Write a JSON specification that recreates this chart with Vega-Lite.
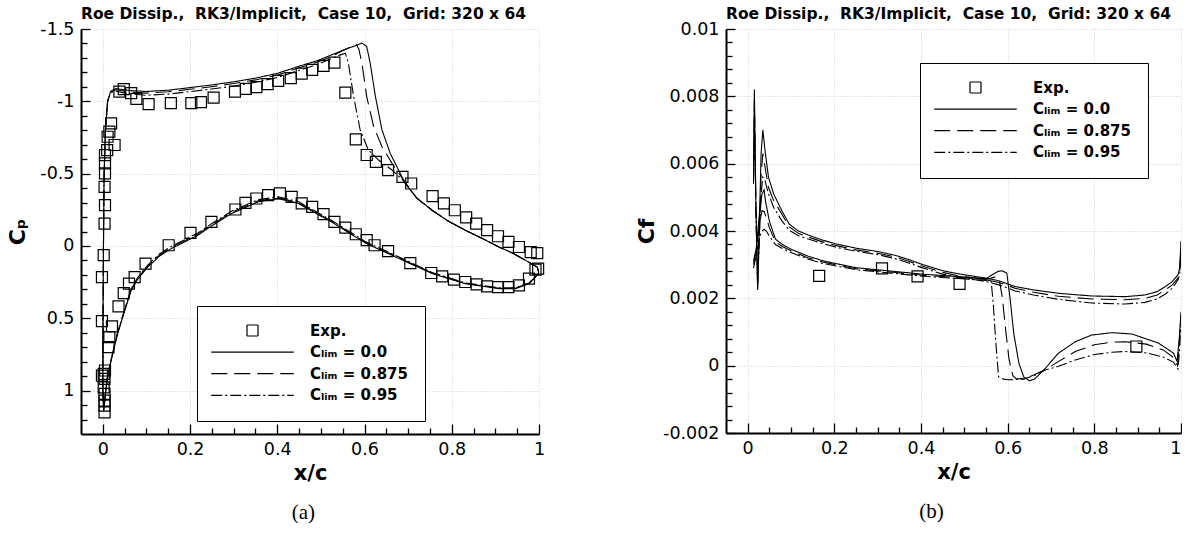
{
  "$schema": "https://vega.github.io/schema/vega-lite/v6.json",
  "padding": {"left": 6, "top": 7, "right": 0, "bottom": 0},
  "background": "white",
  "datasets": {
    "cpl": [
      {"s":"a","g":"U","x":1,"y":0.19},{"s":"a","g":"U","x":0.996,"y":0.146},{"s":"a","g":"U","x":0.969,"y":0.099},{"s":"a","g":"U","x":0.94,"y":0.05},{"s":"a","g":"U","x":0.908,"y":0.007},{"s":"a","g":"U","x":0.87,"y":-0.052},{"s":"a","g":"U","x":0.831,"y":-0.109},{"s":"a","g":"U","x":0.79,"y":-0.175},{"s":"a","g":"U","x":0.755,"y":-0.247},{"s":"a","g":"U","x":0.72,"y":-0.33},{"s":"a","g":"U","x":0.693,"y":-0.432},{"s":"a","g":"U","x":0.678,"y":-0.525},{"s":"a","g":"U","x":0.659,"y":-0.64},{"s":"a","g":"U","x":0.64,"y":-0.802},{"s":"a","g":"U","x":0.625,"y":-1.033},{"s":"a","g":"U","x":0.613,"y":-1.264},{"s":"a","g":"U","x":0.605,"y":-1.379},{"s":"a","g":"U","x":0.594,"y":-1.403},{"s":"a","g":"U","x":0.58,"y":-1.385},{"s":"a","g":"U","x":0.563,"y":-1.368},{"s":"a","g":"U","x":0.525,"y":-1.322},{"s":"a","g":"U","x":0.493,"y":-1.282},{"s":"a","g":"U","x":0.448,"y":-1.241},{"s":"a","g":"U","x":0.402,"y":-1.195},{"s":"a","g":"U","x":0.35,"y":-1.16},{"s":"a","g":"U","x":0.3,"y":-1.135},{"s":"a","g":"U","x":0.249,"y":-1.113},{"s":"a","g":"U","x":0.2,"y":-1.095},{"s":"a","g":"U","x":0.15,"y":-1.077},{"s":"a","g":"U","x":0.1,"y":-1.068},{"s":"a","g":"U","x":0.06,"y":-1.075},{"s":"a","g":"U","x":0.03,"y":-1.088},{"s":"a","g":"U","x":0.018,"y":-1.07},{"s":"a","g":"U","x":0.011,"y":-1.0},{"s":"a","g":"U","x":0.006,"y":-0.8},{"s":"a","g":"U","x":0.003,"y":-0.5},{"s":"a","g":"U","x":0.0015,"y":0},{"s":"a","g":"U","x":0.0005,"y":0.5},{"s":"a","g":"U","x":0,"y":1.0},
      {"s":"a","g":"L","x":0,"y":1.0},{"s":"a","g":"L","x":0.002,"y":1.14},{"s":"a","g":"L","x":0.006,"y":1.02},{"s":"a","g":"L","x":0.011,"y":0.9},{"s":"a","g":"L","x":0.019,"y":0.793},{"s":"a","g":"L","x":0.034,"y":0.607},{"s":"a","g":"L","x":0.05,"y":0.45},{"s":"a","g":"L","x":0.065,"y":0.307},{"s":"a","g":"L","x":0.08,"y":0.23},{"s":"a","g":"L","x":0.103,"y":0.146},{"s":"a","g":"L","x":0.13,"y":0.07},{"s":"a","g":"L","x":0.157,"y":0.018},{"s":"a","g":"L","x":0.218,"y":-0.074},{"s":"a","g":"L","x":0.25,"y":-0.14},{"s":"a","g":"L","x":0.295,"y":-0.224},{"s":"a","g":"L","x":0.356,"y":-0.305},{"s":"a","g":"L","x":0.402,"y":-0.328},{"s":"a","g":"L","x":0.448,"y":-0.294},{"s":"a","g":"L","x":0.525,"y":-0.165},{"s":"a","g":"L","x":0.602,"y":-0.02},{"s":"a","g":"L","x":0.678,"y":0.085},{"s":"a","g":"L","x":0.755,"y":0.191},{"s":"a","g":"L","x":0.831,"y":0.261},{"s":"a","g":"L","x":0.908,"y":0.295},{"s":"a","g":"L","x":0.946,"y":0.295},{"s":"a","g":"L","x":0.977,"y":0.261},{"s":"a","g":"L","x":0.996,"y":0.203},{"s":"a","g":"L","x":1,"y":0.19},
      {"s":"b","g":"U","x":1,"y":0.19},{"s":"b","g":"U","x":0.996,"y":0.146},{"s":"b","g":"U","x":0.969,"y":0.099},{"s":"b","g":"U","x":0.94,"y":0.05},{"s":"b","g":"U","x":0.908,"y":0.007},{"s":"b","g":"U","x":0.87,"y":-0.052},{"s":"b","g":"U","x":0.831,"y":-0.109},{"s":"b","g":"U","x":0.79,"y":-0.175},{"s":"b","g":"U","x":0.755,"y":-0.247},{"s":"b","g":"U","x":0.72,"y":-0.33},{"s":"b","g":"U","x":0.693,"y":-0.44},{"s":"b","g":"U","x":0.663,"y":-0.571},{"s":"b","g":"U","x":0.64,"y":-0.686},{"s":"b","g":"U","x":0.621,"y":-0.825},{"s":"b","g":"U","x":0.605,"y":-1.033},{"s":"b","g":"U","x":0.594,"y":-1.264},{"s":"b","g":"U","x":0.587,"y":-1.36},{"s":"b","g":"U","x":0.582,"y":-1.391},{"s":"b","g":"U","x":0.57,"y":-1.378},{"s":"b","g":"U","x":0.55,"y":-1.352},{"s":"b","g":"U","x":0.525,"y":-1.31},{"s":"b","g":"U","x":0.493,"y":-1.272},{"s":"b","g":"U","x":0.448,"y":-1.23},{"s":"b","g":"U","x":0.402,"y":-1.183},{"s":"b","g":"U","x":0.35,"y":-1.148},{"s":"b","g":"U","x":0.3,"y":-1.123},{"s":"b","g":"U","x":0.249,"y":-1.101},{"s":"b","g":"U","x":0.2,"y":-1.083},{"s":"b","g":"U","x":0.15,"y":-1.066},{"s":"b","g":"U","x":0.1,"y":-1.057},{"s":"b","g":"U","x":0.06,"y":-1.065},{"s":"b","g":"U","x":0.03,"y":-1.08},{"s":"b","g":"U","x":0.018,"y":-1.065},{"s":"b","g":"U","x":0.011,"y":-1.0},{"s":"b","g":"U","x":0.006,"y":-0.8},{"s":"b","g":"U","x":0.003,"y":-0.5},{"s":"b","g":"U","x":0.0015,"y":0},{"s":"b","g":"U","x":0.0005,"y":0.5},{"s":"b","g":"U","x":0,"y":1.0},
      {"s":"b","g":"L","x":0,"y":1.0},{"s":"b","g":"L","x":0.002,"y":1.14},{"s":"b","g":"L","x":0.006,"y":1.02},{"s":"b","g":"L","x":0.011,"y":0.9},{"s":"b","g":"L","x":0.019,"y":0.79},{"s":"b","g":"L","x":0.034,"y":0.6},{"s":"b","g":"L","x":0.05,"y":0.445},{"s":"b","g":"L","x":0.065,"y":0.3},{"s":"b","g":"L","x":0.08,"y":0.223},{"s":"b","g":"L","x":0.103,"y":0.138},{"s":"b","g":"L","x":0.13,"y":0.062},{"s":"b","g":"L","x":0.157,"y":0.01},{"s":"b","g":"L","x":0.218,"y":-0.082},{"s":"b","g":"L","x":0.25,"y":-0.148},{"s":"b","g":"L","x":0.295,"y":-0.232},{"s":"b","g":"L","x":0.356,"y":-0.312},{"s":"b","g":"L","x":0.402,"y":-0.334},{"s":"b","g":"L","x":0.448,"y":-0.3},{"s":"b","g":"L","x":0.525,"y":-0.17},{"s":"b","g":"L","x":0.602,"y":-0.025},{"s":"b","g":"L","x":0.678,"y":0.08},{"s":"b","g":"L","x":0.755,"y":0.187},{"s":"b","g":"L","x":0.831,"y":0.258},{"s":"b","g":"L","x":0.908,"y":0.292},{"s":"b","g":"L","x":0.946,"y":0.292},{"s":"b","g":"L","x":0.977,"y":0.258},{"s":"b","g":"L","x":0.996,"y":0.2},{"s":"b","g":"L","x":1,"y":0.19},
      {"s":"c","g":"U","x":1,"y":0.19},{"s":"c","g":"U","x":0.996,"y":0.146},{"s":"c","g":"U","x":0.969,"y":0.099},{"s":"c","g":"U","x":0.94,"y":0.05},{"s":"c","g":"U","x":0.908,"y":0.007},{"s":"c","g":"U","x":0.87,"y":-0.052},{"s":"c","g":"U","x":0.831,"y":-0.109},{"s":"c","g":"U","x":0.79,"y":-0.175},{"s":"c","g":"U","x":0.755,"y":-0.247},{"s":"c","g":"U","x":0.72,"y":-0.33},{"s":"c","g":"U","x":0.693,"y":-0.44},{"s":"c","g":"U","x":0.663,"y":-0.525},{"s":"c","g":"U","x":0.632,"y":-0.594},{"s":"c","g":"U","x":0.609,"y":-0.663},{"s":"c","g":"U","x":0.59,"y":-0.802},{"s":"c","g":"U","x":0.575,"y":-1.033},{"s":"c","g":"U","x":0.563,"y":-1.264},{"s":"c","g":"U","x":0.556,"y":-1.333},{"s":"c","g":"U","x":0.54,"y":-1.316},{"s":"c","g":"U","x":0.525,"y":-1.297},{"s":"c","g":"U","x":0.493,"y":-1.256},{"s":"c","g":"U","x":0.448,"y":-1.212},{"s":"c","g":"U","x":0.402,"y":-1.166},{"s":"c","g":"U","x":0.35,"y":-1.132},{"s":"c","g":"U","x":0.3,"y":-1.105},{"s":"c","g":"U","x":0.249,"y":-1.085},{"s":"c","g":"U","x":0.2,"y":-1.067},{"s":"c","g":"U","x":0.15,"y":-1.05},{"s":"c","g":"U","x":0.1,"y":-1.042},{"s":"c","g":"U","x":0.06,"y":-1.052},{"s":"c","g":"U","x":0.03,"y":-1.07},{"s":"c","g":"U","x":0.018,"y":-1.06},{"s":"c","g":"U","x":0.011,"y":-1.0},{"s":"c","g":"U","x":0.006,"y":-0.8},{"s":"c","g":"U","x":0.003,"y":-0.5},{"s":"c","g":"U","x":0.0015,"y":0},{"s":"c","g":"U","x":0.0005,"y":0.5},{"s":"c","g":"U","x":0,"y":1.0},
      {"s":"c","g":"L","x":0,"y":1.0},{"s":"c","g":"L","x":0.002,"y":1.14},{"s":"c","g":"L","x":0.006,"y":1.02},{"s":"c","g":"L","x":0.011,"y":0.9},{"s":"c","g":"L","x":0.019,"y":0.785},{"s":"c","g":"L","x":0.034,"y":0.595},{"s":"c","g":"L","x":0.05,"y":0.44},{"s":"c","g":"L","x":0.065,"y":0.295},{"s":"c","g":"L","x":0.08,"y":0.218},{"s":"c","g":"L","x":0.103,"y":0.132},{"s":"c","g":"L","x":0.13,"y":0.055},{"s":"c","g":"L","x":0.157,"y":0.003},{"s":"c","g":"L","x":0.218,"y":-0.09},{"s":"c","g":"L","x":0.25,"y":-0.155},{"s":"c","g":"L","x":0.295,"y":-0.24},{"s":"c","g":"L","x":0.356,"y":-0.32},{"s":"c","g":"L","x":0.402,"y":-0.34},{"s":"c","g":"L","x":0.448,"y":-0.307},{"s":"c","g":"L","x":0.525,"y":-0.176},{"s":"c","g":"L","x":0.602,"y":-0.03},{"s":"c","g":"L","x":0.678,"y":0.075},{"s":"c","g":"L","x":0.755,"y":0.183},{"s":"c","g":"L","x":0.831,"y":0.255},{"s":"c","g":"L","x":0.908,"y":0.289},{"s":"c","g":"L","x":0.946,"y":0.289},{"s":"c","g":"L","x":0.977,"y":0.256},{"s":"c","g":"L","x":0.996,"y":0.198},{"s":"c","g":"L","x":1,"y":0.19}
    ],
    "cpe": [
      {"s":"e","x":0.038,"y":-1.067},{"s":"e","x":0.048,"y":-1.084},{"s":"e","x":0.065,"y":-1.056},{"s":"e","x":0.077,"y":-1.017},{"s":"e","x":0.105,"y":-0.98},{"s":"e","x":0.156,"y":-0.987},{"s":"e","x":0.203,"y":-0.987},{"s":"e","x":0.225,"y":-0.994},{"s":"e","x":0.254,"y":-1.026},{"s":"e","x":0.303,"y":-1.067},{"s":"e","x":0.328,"y":-1.086},{"s":"e","x":0.352,"y":-1.098},{"s":"e","x":0.378,"y":-1.119},{"s":"e","x":0.402,"y":-1.141},{"s":"e","x":0.431,"y":-1.16},{"s":"e","x":0.456,"y":-1.192},{"s":"e","x":0.48,"y":-1.218},{"s":"e","x":0.506,"y":-1.245},{"s":"e","x":0.531,"y":-1.268},{"s":"e","x":0.556,"y":-1.06},{"s":"e","x":0.58,"y":-0.737},{"s":"e","x":0.605,"y":-0.629},{"s":"e","x":0.626,"y":-0.582},{"s":"e","x":0.654,"y":-0.525},{"s":"e","x":0.687,"y":-0.478},{"s":"e","x":0.707,"y":-0.432},{"s":"e","x":0.756,"y":-0.344},{"s":"e","x":0.782,"y":-0.294},{"s":"e","x":0.807,"y":-0.247},{"s":"e","x":0.833,"y":-0.197},{"s":"e","x":0.856,"y":-0.155},{"s":"e","x":0.881,"y":-0.109},{"s":"e","x":0.906,"y":-0.067},{"s":"e","x":0.93,"y":-0.028},{"s":"e","x":0.954,"y":0.007},{"s":"e","x":0.981,"y":0.042},{"s":"e","x":0.996,"y":0.049},{"s":"e","x":0.998,"y":0.157},
      {"s":"e","x":0.019,"y":-0.848},{"s":"e","x":0.015,"y":-0.79},{"s":"e","x":0.011,"y":-0.755},{"s":"e","x":0.027,"y":-0.698},{"s":"e","x":0.01,"y":-0.663},{"s":"e","x":0.005,"y":-0.628},{"s":"e","x":0.005,"y":-0.571},{"s":"e","x":0.005,"y":-0.502},{"s":"e","x":0.004,"y":-0.409},{"s":"e","x":0.005,"y":-0.282},{"s":"e","x":0.004,"y":-0.155},{"s":"e","x":0.002,"y":0.064},{"s":"e","x":-0.002,"y":0.215},{"s":"e","x":-0.002,"y":0.52},{"s":"e","x":0.002,"y":0.884},{"s":"e","x":0.004,"y":0.919},{"s":"e","x":0.005,"y":0.861},{"s":"e","x":0.002,"y":0.977},{"s":"e","x":0.004,"y":1.023},{"s":"e","x":0.004,"y":1.069},{"s":"e","x":0.004,"y":1.104},{"s":"e","x":0.004,"y":1.15},{"s":"e","x":-0.002,"y":0.896},
      {"s":"e","x":0.013,"y":0.7},{"s":"e","x":0.015,"y":0.63},{"s":"e","x":0.021,"y":0.556},{"s":"e","x":0.036,"y":0.418},{"s":"e","x":0.048,"y":0.326},{"s":"e","x":0.06,"y":0.261},{"s":"e","x":0.073,"y":0.215},{"s":"e","x":0.098,"y":0.122},{"s":"e","x":0.151,"y":-0.005},{"s":"e","x":0.201,"y":-0.09},{"s":"e","x":0.249,"y":-0.166},{"s":"e","x":0.304,"y":-0.252},{"s":"e","x":0.327,"y":-0.298},{"s":"e","x":0.352,"y":-0.328},{"s":"e","x":0.379,"y":-0.351},{"s":"e","x":0.406,"y":-0.363},{"s":"e","x":0.433,"y":-0.34},{"s":"e","x":0.456,"y":-0.294},{"s":"e","x":0.48,"y":-0.27},{"s":"e","x":0.506,"y":-0.22},{"s":"e","x":0.531,"y":-0.166},{"s":"e","x":0.556,"y":-0.127},{"s":"e","x":0.58,"y":-0.081},{"s":"e","x":0.605,"y":-0.04},{"s":"e","x":0.623,"y":-0.005},{"s":"e","x":0.654,"y":0.035},{"s":"e","x":0.705,"y":0.118},{"s":"e","x":0.753,"y":0.187},{"s":"e","x":0.778,"y":0.21},{"s":"e","x":0.805,"y":0.233},{"s":"e","x":0.831,"y":0.249},{"s":"e","x":0.857,"y":0.265},{"s":"e","x":0.881,"y":0.279},{"s":"e","x":0.906,"y":0.284},{"s":"e","x":0.93,"y":0.284},{"s":"e","x":0.954,"y":0.272},{"s":"e","x":0.977,"y":0.226},{"s":"e","x":0.992,"y":0.164}
    ],
    "cfl": [
      {"s":"a","g":"A","x":0.0135,"y":0.0056},{"s":"a","g":"A","x":0.0155,"y":0.0082},{"s":"a","g":"A","x":0.019,"y":0.0048},{"s":"a","g":"A","x":0.023,"y":0.00225},{"s":"a","g":"A","x":0.027,"y":0.0042},{"s":"a","g":"A","x":0.031,"y":0.0063},{"s":"a","g":"A","x":0.035,"y":0.007},{"s":"a","g":"A","x":0.04,"y":0.0064},{"s":"a","g":"A","x":0.048,"y":0.0056},{"s":"a","g":"A","x":0.06,"y":0.0051},{"s":"a","g":"A","x":0.079,"y":0.0046},{"s":"a","g":"A","x":0.096,"y":0.0042},{"s":"a","g":"A","x":0.117,"y":0.004},{"s":"a","g":"A","x":0.14,"y":0.00388},{"s":"a","g":"A","x":0.175,"y":0.00372},{"s":"a","g":"A","x":0.21,"y":0.0036},{"s":"a","g":"A","x":0.25,"y":0.00349},{"s":"a","g":"A","x":0.3,"y":0.00339},{"s":"a","g":"A","x":0.34,"y":0.00328},{"s":"a","g":"A","x":0.37,"y":0.00316},{"s":"a","g":"A","x":0.4,"y":0.00302},{"s":"a","g":"A","x":0.45,"y":0.00282},{"s":"a","g":"A","x":0.49,"y":0.00272},{"s":"a","g":"A","x":0.525,"y":0.00265},{"s":"a","g":"A","x":0.55,"y":0.0026},{"s":"a","g":"A","x":0.58,"y":0.00252},{"s":"a","g":"A","x":0.617,"y":0.00235},{"s":"a","g":"A","x":0.66,"y":0.00225},{"s":"a","g":"A","x":0.717,"y":0.00215},{"s":"a","g":"A","x":0.794,"y":0.00207},{"s":"a","g":"A","x":0.871,"y":0.00205},{"s":"a","g":"A","x":0.917,"y":0.0021},{"s":"a","g":"A","x":0.945,"y":0.0022},{"s":"a","g":"A","x":0.964,"y":0.00235},{"s":"a","g":"A","x":0.98,"y":0.0025},{"s":"a","g":"A","x":0.993,"y":0.0027},{"s":"a","g":"A","x":0.997,"y":0.0029},{"s":"a","g":"A","x":1,"y":0.0037},
      {"s":"a","g":"B","x":0.0135,"y":0.0031},{"s":"a","g":"B","x":0.02,"y":0.0035},{"s":"a","g":"B","x":0.027,"y":0.0045},{"s":"a","g":"B","x":0.033,"y":0.0051},{"s":"a","g":"B","x":0.038,"y":0.00522},{"s":"a","g":"B","x":0.041,"y":0.0049},{"s":"a","g":"B","x":0.05,"y":0.0043},{"s":"a","g":"B","x":0.064,"y":0.00376},{"s":"a","g":"B","x":0.08,"y":0.0036},{"s":"a","g":"B","x":0.1,"y":0.00346},{"s":"a","g":"B","x":0.14,"y":0.00325},{"s":"a","g":"B","x":0.175,"y":0.00311},{"s":"a","g":"B","x":0.25,"y":0.00291},{"s":"a","g":"B","x":0.33,"y":0.00281},{"s":"a","g":"B","x":0.41,"y":0.00271},{"s":"a","g":"B","x":0.485,"y":0.00265},{"s":"a","g":"B","x":0.55,"y":0.00258},{"s":"a","g":"B","x":0.564,"y":0.0027},{"s":"a","g":"B","x":0.578,"y":0.0028},{"s":"a","g":"B","x":0.587,"y":0.00282},{"s":"a","g":"B","x":0.598,"y":0.00275},{"s":"a","g":"B","x":0.606,"y":0.00195},{"s":"a","g":"B","x":0.614,"y":0.00096},{"s":"a","g":"B","x":0.626,"y":0.00007},{"s":"a","g":"B","x":0.637,"y":-0.00033},{"s":"a","g":"B","x":0.65,"y":-0.00045},{"s":"a","g":"B","x":0.662,"y":-0.0004},{"s":"a","g":"B","x":0.687,"y":-0.00008},{"s":"a","g":"B","x":0.717,"y":0.00037},{"s":"a","g":"B","x":0.756,"y":0.00071},{"s":"a","g":"B","x":0.794,"y":0.00091},{"s":"a","g":"B","x":0.841,"y":0.00098},{"s":"a","g":"B","x":0.887,"y":0.00094},{"s":"a","g":"B","x":0.948,"y":0.00067},{"s":"a","g":"B","x":0.983,"y":0.00037},{"s":"a","g":"B","x":0.991,"y":0.00012},{"s":"a","g":"B","x":0.996,"y":0.0008},{"s":"a","g":"B","x":1,"y":0.0016},
      {"s":"b","g":"A","x":0.0135,"y":0.0055},{"s":"b","g":"A","x":0.0155,"y":0.0079},{"s":"b","g":"A","x":0.019,"y":0.0047},{"s":"b","g":"A","x":0.023,"y":0.0023},{"s":"b","g":"A","x":0.027,"y":0.004},{"s":"b","g":"A","x":0.031,"y":0.0057},{"s":"b","g":"A","x":0.035,"y":0.0063},{"s":"b","g":"A","x":0.04,"y":0.0059},{"s":"b","g":"A","x":0.048,"y":0.0053},{"s":"b","g":"A","x":0.06,"y":0.0049},{"s":"b","g":"A","x":0.079,"y":0.0045},{"s":"b","g":"A","x":0.096,"y":0.00412},{"s":"b","g":"A","x":0.117,"y":0.00393},{"s":"b","g":"A","x":0.14,"y":0.00382},{"s":"b","g":"A","x":0.175,"y":0.00367},{"s":"b","g":"A","x":0.21,"y":0.00355},{"s":"b","g":"A","x":0.25,"y":0.00344},{"s":"b","g":"A","x":0.3,"y":0.00334},{"s":"b","g":"A","x":0.34,"y":0.00323},{"s":"b","g":"A","x":0.37,"y":0.00311},{"s":"b","g":"A","x":0.4,"y":0.00297},{"s":"b","g":"A","x":0.45,"y":0.00277},{"s":"b","g":"A","x":0.49,"y":0.00266},{"s":"b","g":"A","x":0.525,"y":0.0026},{"s":"b","g":"A","x":0.55,"y":0.00255},{"s":"b","g":"A","x":0.58,"y":0.00247},{"s":"b","g":"A","x":0.617,"y":0.0023},{"s":"b","g":"A","x":0.66,"y":0.00218},{"s":"b","g":"A","x":0.717,"y":0.00206},{"s":"b","g":"A","x":0.794,"y":0.00198},{"s":"b","g":"A","x":0.871,"y":0.00196},{"s":"b","g":"A","x":0.917,"y":0.002},{"s":"b","g":"A","x":0.945,"y":0.0021},{"s":"b","g":"A","x":0.964,"y":0.00225},{"s":"b","g":"A","x":0.98,"y":0.0024},{"s":"b","g":"A","x":0.993,"y":0.0026},{"s":"b","g":"A","x":0.997,"y":0.0028},{"s":"b","g":"A","x":1,"y":0.0035},
      {"s":"b","g":"B","x":0.0135,"y":0.003},{"s":"b","g":"B","x":0.02,"y":0.0034},{"s":"b","g":"B","x":0.027,"y":0.0042},{"s":"b","g":"B","x":0.033,"y":0.0046},{"s":"b","g":"B","x":0.038,"y":0.00458},{"s":"b","g":"B","x":0.043,"y":0.0044},{"s":"b","g":"B","x":0.05,"y":0.0041},{"s":"b","g":"B","x":0.064,"y":0.00368},{"s":"b","g":"B","x":0.08,"y":0.00354},{"s":"b","g":"B","x":0.1,"y":0.00341},{"s":"b","g":"B","x":0.14,"y":0.0032},{"s":"b","g":"B","x":0.175,"y":0.00307},{"s":"b","g":"B","x":0.25,"y":0.00288},{"s":"b","g":"B","x":0.33,"y":0.00278},{"s":"b","g":"B","x":0.41,"y":0.00268},{"s":"b","g":"B","x":0.485,"y":0.00262},{"s":"b","g":"B","x":0.55,"y":0.00256},{"s":"b","g":"B","x":0.562,"y":0.0026},{"s":"b","g":"B","x":0.572,"y":0.00264},{"s":"b","g":"B","x":0.58,"y":0.0026},{"s":"b","g":"B","x":0.588,"y":0.002},{"s":"b","g":"B","x":0.595,"y":0.0011},{"s":"b","g":"B","x":0.603,"y":0.0002},{"s":"b","g":"B","x":0.612,"y":-0.0003},{"s":"b","g":"B","x":0.621,"y":-0.0004},{"s":"b","g":"B","x":0.64,"y":-0.00037},{"s":"b","g":"B","x":0.66,"y":-0.00028},{"s":"b","g":"B","x":0.687,"y":-0.00012},{"s":"b","g":"B","x":0.717,"y":0.00012},{"s":"b","g":"B","x":0.756,"y":0.00042},{"s":"b","g":"B","x":0.8,"y":0.00062},{"s":"b","g":"B","x":0.841,"y":0.0007},{"s":"b","g":"B","x":0.871,"y":0.00071},{"s":"b","g":"B","x":0.92,"y":0.00064},{"s":"b","g":"B","x":0.96,"y":0.00046},{"s":"b","g":"B","x":0.983,"y":0.00024},{"s":"b","g":"B","x":0.992,"y":0},{"s":"b","g":"B","x":0.996,"y":0.0007},{"s":"b","g":"B","x":1,"y":0.0015},
      {"s":"c","g":"A","x":0.0135,"y":0.0054},{"s":"c","g":"A","x":0.0155,"y":0.0076},{"s":"c","g":"A","x":0.019,"y":0.0046},{"s":"c","g":"A","x":0.023,"y":0.0024},{"s":"c","g":"A","x":0.027,"y":0.0038},{"s":"c","g":"A","x":0.031,"y":0.0051},{"s":"c","g":"A","x":0.035,"y":0.0056},{"s":"c","g":"A","x":0.04,"y":0.0055},{"s":"c","g":"A","x":0.048,"y":0.0051},{"s":"c","g":"A","x":0.06,"y":0.0047},{"s":"c","g":"A","x":0.079,"y":0.0043},{"s":"c","g":"A","x":0.096,"y":0.00402},{"s":"c","g":"A","x":0.117,"y":0.00386},{"s":"c","g":"A","x":0.14,"y":0.00376},{"s":"c","g":"A","x":0.175,"y":0.00362},{"s":"c","g":"A","x":0.21,"y":0.0035},{"s":"c","g":"A","x":0.25,"y":0.0034},{"s":"c","g":"A","x":0.3,"y":0.0033},{"s":"c","g":"A","x":0.34,"y":0.00318},{"s":"c","g":"A","x":0.37,"y":0.00306},{"s":"c","g":"A","x":0.4,"y":0.00292},{"s":"c","g":"A","x":0.45,"y":0.00272},{"s":"c","g":"A","x":0.49,"y":0.00261},{"s":"c","g":"A","x":0.525,"y":0.00255},{"s":"c","g":"A","x":0.55,"y":0.0025},{"s":"c","g":"A","x":0.58,"y":0.0024},{"s":"c","g":"A","x":0.617,"y":0.00222},{"s":"c","g":"A","x":0.66,"y":0.0021},{"s":"c","g":"A","x":0.717,"y":0.00197},{"s":"c","g":"A","x":0.794,"y":0.00186},{"s":"c","g":"A","x":0.871,"y":0.00183},{"s":"c","g":"A","x":0.917,"y":0.00188},{"s":"c","g":"A","x":0.945,"y":0.00198},{"s":"c","g":"A","x":0.964,"y":0.00213},{"s":"c","g":"A","x":0.98,"y":0.0023},{"s":"c","g":"A","x":0.993,"y":0.00255},{"s":"c","g":"A","x":0.997,"y":0.0027},{"s":"c","g":"A","x":1,"y":0.0034},
      {"s":"c","g":"B","x":0.0135,"y":0.0029},{"s":"c","g":"B","x":0.02,"y":0.0033},{"s":"c","g":"B","x":0.027,"y":0.0038},{"s":"c","g":"B","x":0.033,"y":0.004},{"s":"c","g":"B","x":0.038,"y":0.00405},{"s":"c","g":"B","x":0.043,"y":0.004},{"s":"c","g":"B","x":0.05,"y":0.00385},{"s":"c","g":"B","x":0.064,"y":0.0036},{"s":"c","g":"B","x":0.08,"y":0.00348},{"s":"c","g":"B","x":0.1,"y":0.00336},{"s":"c","g":"B","x":0.14,"y":0.00316},{"s":"c","g":"B","x":0.175,"y":0.00303},{"s":"c","g":"B","x":0.25,"y":0.00285},{"s":"c","g":"B","x":0.33,"y":0.00275},{"s":"c","g":"B","x":0.41,"y":0.00265},{"s":"c","g":"B","x":0.485,"y":0.00259},{"s":"c","g":"B","x":0.55,"y":0.00253},{"s":"c","g":"B","x":0.562,"y":0.0025},{"s":"c","g":"B","x":0.567,"y":0.0018},{"s":"c","g":"B","x":0.572,"y":0.0008},{"s":"c","g":"B","x":0.579,"y":-0.00033},{"s":"c","g":"B","x":0.59,"y":-0.0004},{"s":"c","g":"B","x":0.601,"y":-0.00042},{"s":"c","g":"B","x":0.637,"y":-0.0004},{"s":"c","g":"B","x":0.66,"y":-0.0003},{"s":"c","g":"B","x":0.687,"y":-0.00013},{"s":"c","g":"B","x":0.717,"y":-0.00002},{"s":"c","g":"B","x":0.756,"y":0.00017},{"s":"c","g":"B","x":0.8,"y":0.00033},{"s":"c","g":"B","x":0.841,"y":0.0004},{"s":"c","g":"B","x":0.871,"y":0.00042},{"s":"c","g":"B","x":0.92,"y":0.00038},{"s":"c","g":"B","x":0.96,"y":0.00025},{"s":"c","g":"B","x":0.983,"y":0.0001},{"s":"c","g":"B","x":0.993,"y":-0.0001},{"s":"c","g":"B","x":0.997,"y":0.0005},{"s":"c","g":"B","x":1,"y":0.0014}
    ],
    "cfe": [
      {"s":"e","x":0.165,"y":0.00267},{"s":"e","x":0.31,"y":0.00289},{"s":"e","x":0.392,"y":0.00265},{"s":"e","x":0.489,"y":0.00243},{"s":"e","x":0.897,"y":0.00057}
    ]
  },
  "spacing": 88,
  "resolve": {
    "scale": {"strokeDash": "independent", "shape": "independent"},
    "legend": {"strokeDash": "independent", "shape": "independent"}
  },
  "hconcat": [
    {
      "title": {"text": "(a)", "orient": "bottom", "anchor": "middle", "font": "Liberation Serif", "fontSize": 21, "fontWeight": "normal", "color": "black", "offset": 18, "dx": 27},
      "vconcat": [
        {
          "width": 458,
          "height": 405,
          "title": {"text": "Roe Dissip.,\u00a0 RK3/Implicit,\u00a0 Case 10,\u00a0 Grid: 320 x 64", "anchor": "start", "frame": "group", "font": "DejaVu Sans", "fontSize": 15.5, "fontWeight": "bold", "color": "black", "offset": -2.5},
          "encoding": {
            "x": {"field": "x", "type": "quantitative",
              "scale": {"domain": [-0.05, 1], "nice": false, "zero": false},
              "axis": {"title": "x/c", "titleFontSize": 21, "titlePadding": 1,
                "values": [0,0.05,0.1,0.15,0.2,0.25,0.3,0.35,0.4,0.45,0.5,0.55,0.6,0.65,0.7,0.75,0.8,0.85,0.9,0.95,1],
                "labelExpr": "abs(datum.value*5-round(datum.value*5))<0.001 ? format(datum.value,'~g') : ''",
                "tickSize": {"condition": {"test": "abs(datum.value*5-round(datum.value*5))<0.001", "value": -10}, "value": -6},
                "gridOpacity": {"condition": {"test": "abs(datum.value*5-round(datum.value*5))<0.001", "value": 1}, "value": 0},
                "labelPadding": 16}},
            "y": {"field": "y", "type": "quantitative",
              "scale": {"domain": [-1.5, 1.3], "reverse": true, "nice": false, "zero": false},
              "axis": {"title": "C\u209a", "titleFontSize": 22, "titlePadding": 10,
                "values": [-1.5,-1.4,-1.3,-1.2,-1.1,-1,-0.9,-0.8,-0.7,-0.6,-0.5,-0.4,-0.3,-0.2,-0.1,0,0.1,0.2,0.3,0.4,0.5,0.6,0.7,0.8,0.9,1,1.1,1.2],
                "labelExpr": "abs(datum.value*2-round(datum.value*2))<0.001 ? replace(format(datum.value,'~g'),'\u2212','-') : ''",
                "tickSize": {"condition": {"test": "abs(datum.value*2-round(datum.value*2))<0.001", "value": -9}, "value": -6},
                "gridOpacity": {"condition": {"test": "abs(datum.value*2-round(datum.value*2))<0.001", "value": 1}, "value": 0},
                "labelPadding": 16}}
          },
          "layer": [
            {
              "data": {"name": "cpl"},
              "mark": {"type": "line", "color": "black", "strokeWidth": 1.1, "clip": true},
              "encoding": {
                "detail": {"field": "g"},
                "strokeDash": {"field": "s", "type": "nominal",
                  "scale": {"domain": ["e", "a", "b", "c"], "range": [[1, 0], [1, 0], [16, 7], [11, 3, 2, 3]]},
                  "legend": {"title": null, "orient": "none", "legendX": 116, "legendY": 277,
                    "labelExpr": "datum.value == 'e' ? 'Exp.' : datum.value == 'a' ? 'C\u2097\u1d62\u2098 = 0.0' : datum.value == 'b' ? 'C\u2097\u1d62\u2098 = 0.875' : 'C\u2097\u1d62\u2098 = 0.95'",
                    "strokeColor": "black", "fillColor": "white", "padding": 17, "rowPadding": 5.6,
                    "symbolSize": 121, "symbolStrokeWidth": 1.2, "symbolStrokeColor": "black", "symbolFillColor": "transparent", "symbolOffset": 31, "labelOffset": 50,
                    "labelFont": "DejaVu Sans", "labelFontWeight": "bold", "labelFontSize": 15, "labelColor": "black", "labelLimit": 300}}
              }
            },
            {
              "data": {"name": "cpe"},
              "mark": {"type": "point", "size": 121, "filled": false, "stroke": "black", "strokeWidth": 1.2, "opacity": 1},
              "encoding": {
                "shape": {"field": "s", "type": "nominal",
                  "scale": {"domain": ["e", "a", "b", "c"], "range": ["square", "M-7.5,0H7.5", "M-7.5,0H7.5", "M-7.5,0H7.5"]},
                  "legend": {"title": null, "orient": "none", "legendX": 116, "legendY": 277,
                    "labelExpr": "datum.value == 'e' ? 'Exp.' : datum.value == 'a' ? 'C\u2097\u1d62\u2098 = 0.0' : datum.value == 'b' ? 'C\u2097\u1d62\u2098 = 0.875' : 'C\u2097\u1d62\u2098 = 0.95'",
                    "strokeColor": "black", "fillColor": "white", "padding": 17, "rowPadding": 5.6,
                    "symbolSize": 121, "symbolStrokeWidth": 1.2, "symbolStrokeColor": "black", "symbolFillColor": "transparent", "symbolOffset": 31, "labelOffset": 50,
                    "labelFont": "DejaVu Sans", "labelFontWeight": "bold", "labelFontSize": 15, "labelColor": "black", "labelLimit": 300}}
              }
            }
          ]
        }
      ]
    },
    {
      "title": {"text": "(b)", "orient": "bottom", "anchor": "middle", "font": "Liberation Serif", "fontSize": 21, "fontWeight": "normal", "color": "black", "offset": 18, "dx": 23},
      "vconcat": [
        {
          "width": 455,
          "height": 404,
          "title": {"text": "Roe Dissip.,\u00a0 RK3/Implicit,\u00a0 Case 10,\u00a0 Grid: 320 x 64", "anchor": "start", "frame": "group", "font": "DejaVu Sans", "fontSize": 15.5, "fontWeight": "bold", "color": "black", "offset": -2.5},
          "encoding": {
            "x": {"field": "x", "type": "quantitative",
              "scale": {"domain": [-0.05, 1], "nice": false, "zero": false},
              "axis": {"title": "x/c", "titleFontSize": 21, "titlePadding": 1,
                "values": [0,0.05,0.1,0.15,0.2,0.25,0.3,0.35,0.4,0.45,0.5,0.55,0.6,0.65,0.7,0.75,0.8,0.85,0.9,0.95,1],
                "labelExpr": "abs(datum.value*5-round(datum.value*5))<0.001 ? format(datum.value,'~g') : ''",
                "tickSize": {"condition": {"test": "abs(datum.value*5-round(datum.value*5))<0.001", "value": -10}, "value": -6},
                "gridOpacity": {"condition": {"test": "abs(datum.value*5-round(datum.value*5))<0.001", "value": 1}, "value": 0},
                "labelPadding": 16, "labelFlush": true}},
            "y": {"field": "y", "type": "quantitative",
              "scale": {"domain": [-0.002, 0.01], "nice": false, "zero": false},
              "axis": {"title": "Cf", "titleFontSize": 22, "titlePadding": 4,
                "values": [-0.002,-0.0016,-0.0012,-0.0008,-0.0004,0,0.0004,0.0008,0.0012,0.0016,0.002,0.0024,0.0028,0.0032,0.0036,0.004,0.0044,0.0048,0.0052,0.0056,0.006,0.0064,0.0068,0.0072,0.0076,0.008,0.0084,0.0088,0.0092,0.0096,0.01],
                "labelExpr": "abs(datum.value*500-round(datum.value*500))<0.001 ? replace(format(datum.value,'~g'),'\u2212','-') : ''",
                "tickSize": {"condition": {"test": "abs(datum.value*500-round(datum.value*500))<0.001", "value": -9}, "value": -6},
                "gridOpacity": {"condition": {"test": "abs(datum.value*500-round(datum.value*500))<0.001", "value": 1}, "value": 0},
                "labelPadding": 16}}
          },
          "layer": [
            {
              "data": {"name": "cfl"},
              "mark": {"type": "line", "color": "black", "strokeWidth": 1.1, "clip": true},
              "encoding": {
                "detail": {"field": "g"},
                "strokeDash": {"field": "s", "type": "nominal",
                  "scale": {"domain": ["e", "a", "b", "c"], "range": [[1, 0], [1, 0], [16, 7], [11, 3, 2, 3]]},
                  "legend": {"title": null, "orient": "none", "legendX": 194, "legendY": 34,
                    "labelExpr": "datum.value == 'e' ? 'Exp.' : datum.value == 'a' ? 'C\u2097\u1d62\u2098 = 0.0' : datum.value == 'b' ? 'C\u2097\u1d62\u2098 = 0.875' : 'C\u2097\u1d62\u2098 = 0.95'",
                    "strokeColor": "black", "fillColor": "white", "padding": 17, "rowPadding": 5.6,
                    "symbolSize": 121, "symbolStrokeWidth": 1.2, "symbolStrokeColor": "black", "symbolFillColor": "transparent", "symbolOffset": 31, "labelOffset": 50,
                    "labelFont": "DejaVu Sans", "labelFontWeight": "bold", "labelFontSize": 15, "labelColor": "black", "labelLimit": 300}}
              }
            },
            {
              "data": {"name": "cfe"},
              "mark": {"type": "point", "size": 121, "filled": false, "stroke": "black", "strokeWidth": 1.2, "opacity": 1},
              "encoding": {
                "shape": {"field": "s", "type": "nominal",
                  "scale": {"domain": ["e", "a", "b", "c"], "range": ["square", "M-7.5,0H7.5", "M-7.5,0H7.5", "M-7.5,0H7.5"]},
                  "legend": {"title": null, "orient": "none", "legendX": 194, "legendY": 34,
                    "labelExpr": "datum.value == 'e' ? 'Exp.' : datum.value == 'a' ? 'C\u2097\u1d62\u2098 = 0.0' : datum.value == 'b' ? 'C\u2097\u1d62\u2098 = 0.875' : 'C\u2097\u1d62\u2098 = 0.95'",
                    "strokeColor": "black", "fillColor": "white", "padding": 17, "rowPadding": 5.6,
                    "symbolSize": 121, "symbolStrokeWidth": 1.2, "symbolStrokeColor": "black", "symbolFillColor": "transparent", "symbolOffset": 31, "labelOffset": 50,
                    "labelFont": "DejaVu Sans", "labelFontWeight": "bold", "labelFontSize": 15, "labelColor": "black", "labelLimit": 300}}
              }
            }
          ]
        }
      ]
    }
  ],
  "config": {
    "view": {"stroke": null},
    "axis": {"domainColor": "black", "domainWidth": 2, "tickColor": "black", "tickWidth": 1.3,
      "labelFont": "DejaVu Sans", "labelFontSize": 17.5, "labelColor": "black",
      "titleFont": "DejaVu Sans", "titleFontWeight": "bold", "titleColor": "black",
      "gridColor": "#cfcfcf", "gridDash": [1, 2], "gridWidth": 1,
      "labelOverlap": false, "labelFlush": false, "labelBound": false}
  }
}
